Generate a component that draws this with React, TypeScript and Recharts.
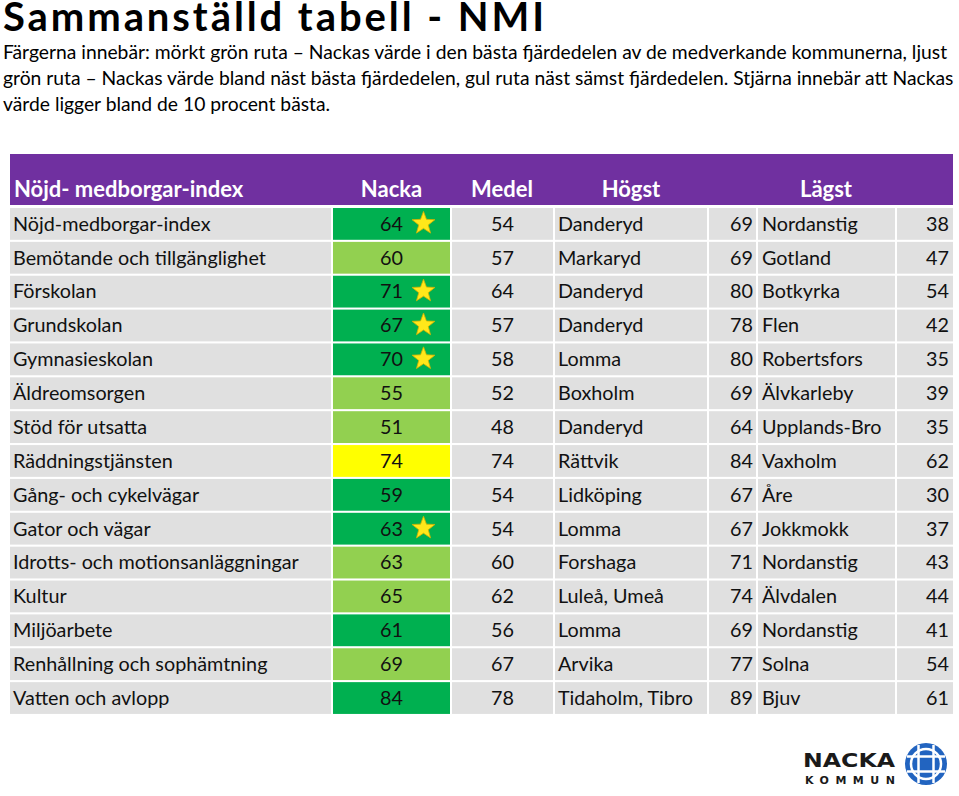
import React from 'react';
import { BarChart, Bar, XAxis, YAxis } from 'recharts';

// ---------- data ----------
const categories = [
  'Nöjd-medborgar-index',
  'Bemötande och tillgänglighet',
  'Förskolan',
  'Grundskolan',
  'Gymnasieskolan',
  'Äldreomsorgen',
  'Stöd för utsatta',
  'Räddningstjänsten',
  'Gång- och cykelvägar',
  'Gator och vägar',
  'Idrotts- och motionsanläggningar',
  'Kultur',
  'Miljöarbete',
  'Renhållning och sophämtning',
  'Vatten och avlopp',
];
const nackaValues = [64, 60, 71, 67, 70, 55, 51, 74, 59, 63, 63, 65, 61, 69, 84];
const medelValues = [54, 57, 64, 57, 58, 52, 48, 74, 54, 54, 60, 62, 56, 67, 78];
const hogstNames = [
  'Danderyd', 'Markaryd', 'Danderyd', 'Danderyd', 'Lomma', 'Boxholm', 'Danderyd',
  'Rättvik', 'Lidköping', 'Lomma', 'Forshaga', 'Luleå, Umeå', 'Lomma', 'Arvika', 'Tidaholm, Tibro',
];
const hogstValues = [69, 69, 80, 78, 80, 69, 64, 84, 67, 67, 71, 74, 69, 77, 89];
const lagstNames = [
  'Nordanstig', 'Gotland', 'Botkyrka', 'Flen', 'Robertsfors', 'Älvkarleby', 'Upplands-Bro',
  'Vaxholm', 'Åre', 'Jokkmokk', 'Nordanstig', 'Älvdalen', 'Nordanstig', 'Solna', 'Bjuv',
];
const lagstValues = [38, 47, 54, 42, 35, 39, 35, 62, 30, 37, 43, 44, 41, 54, 61];
// quartile class of Nacka's value: dark = best quarter, light = second best, yellow = second worst
const nackaClass = [
  'dark', 'light', 'dark', 'dark', 'dark', 'light', 'light', 'yellow',
  'dark', 'dark', 'light', 'light', 'dark', 'light', 'dark',
];
// star = among the 10 percent best
const nackaStar = [true, false, true, true, true, false, false, false, false, true, false, false, false, false, false];

const headerLabels = ['Nöjd- medborgar-index', 'Nacka', 'Medel', 'Högst', 'Lägst'];

const titleText = 'Sammanställd tabell - NMI';
const descriptionLines = [
  'Färgerna innebär: mörkt grön ruta – Nackas värde i den bästa fjärdedelen av de medverkande kommunerna, ljust',
  'grön ruta – Nackas värde bland näst bästa fjärdedelen, gul ruta näst sämst fjärdedelen. Stjärna innebär att Nackas',
  'värde ligger bland de 10 procent bästa.',
];

// ---------- layout / style ----------
const W = 959;
const H = 796;
const FONT = 'Lato, "Open Sans", "DejaVu Sans", sans-serif';
const COLUMN_EDGES = [10, 332, 451, 554, 708, 757, 896, 954];
const HEADER_TICKS = [14, 391.5, 502, 631, 826];
const CLASS_FILL: Record<string, string> = { dark: '#00B050', light: '#92D050', yellow: '#FFFF00' };
const GREY = '#E0E0E0';
const PURPLE = '#7030A0';
const ROW_FONT = 19.8;
const HEAD_FONT = 22;

const tableData = categories.map((name, i) => ({
  name,
  nacka: nackaValues[i],
  medel: medelValues[i],
  hogstName: hogstNames[i],
  hogstValue: hogstValues[i],
  lagstName: lagstNames[i],
  lagstValue: lagstValues[i],
  cls: nackaClass[i],
  star: nackaStar[i],
}));

type Row = (typeof tableData)[number];
type ColDef = { get: (d: Row) => string | number; align: 'start' | 'middle' | 'end'; pad: number };
const COLS: ColDef[] = [
  { get: (d) => d.name, align: 'start', pad: 3 },
  { get: (d) => d.nacka, align: 'middle', pad: 0 },
  { get: (d) => d.medel, align: 'middle', pad: 0 },
  { get: (d) => d.hogstName, align: 'start', pad: 3 },
  { get: (d) => d.hogstValue, align: 'end', pad: 3 },
  { get: (d) => d.lagstName, align: 'start', pad: 4 },
  { get: (d) => d.lagstValue, align: 'end', pad: 4 },
];

const starPoints = (cx: number, cy: number, ro: number, ri: number) => {
  const pts: string[] = [];
  for (let k = 0; k < 10; k++) {
    const r = k % 2 === 0 ? ro : ri;
    const a = -Math.PI / 2 + (k * Math.PI) / 5;
    pts.push(`${(cx + r * Math.cos(a)).toFixed(2)},${(cy + r * Math.sin(a)).toFixed(2)}`);
  }
  return pts.join(' ');
};

const makeShape = (colIndex: number) => (props: any) => {
  const { x, y, width, height, payload } = props;
  const col = COLS[colIndex];
  const d = payload as Row;
  const fill = colIndex === 1 ? CLASS_FILL[d.cls] : GREY;
  const tx = col.align === 'start' ? x + col.pad : col.align === 'end' ? x + width - col.pad : x + width / 2;
  const cy = y + height / 2;
  return (
    <g>
      <rect x={x} y={y} width={width} height={height} fill={fill} />
      <text
        x={tx}
        y={cy + 6.8}
        textAnchor={col.align}
        fontFamily={FONT}
        fontSize={ROW_FONT}
        fill="#111"
      >
        {col.get(d)}
      </text>
      {colIndex === 1 && d.star ? (
        <polygon
          points={starPoints(x + width / 2 + 32, cy - 0.5, 12, 5)}
          fill="#FFE81A"
          stroke="#D4B000"
          strokeWidth={0.8}
        />
      ) : null}
    </g>
  );
};

const HeaderTick = (props: any) => {
  const { x, payload } = props;
  const idx = HEADER_TICKS.indexOf(payload.value);
  return (
    <text
      x={x}
      y={197}
      textAnchor={idx === 0 ? 'start' : 'middle'}
      fontFamily={FONT}
      fontWeight={700}
      fontSize={HEAD_FONT}
      fill="#FFFFFF"
    >
      {headerLabels[idx]}
    </text>
  );
};

const Logo = () => (
  <g>
    <text x={803} y={767} fontFamily='"DejaVu Sans", sans-serif' fontWeight={700} fontSize={20} fill="#1a1a1a" textLength={92} lengthAdjust="spacingAndGlyphs">
      NACKA
    </text>
    <text x={805} y={783.5} fontFamily='"DejaVu Sans", sans-serif' fontWeight={700} fontSize={11} fill="#1a1a1a" textLength={90} lengthAdjust="spacing">
      KOMMUN
    </text>
    <circle cx={926} cy={764} r={21} fill="#2264C0" />
    <circle cx={926} cy={764} r={15} fill="none" stroke="#FFFFFF" strokeWidth={2.5} />
    <line x1={918.5} y1={745} x2={918.5} y2={783} stroke="#FFFFFF" strokeWidth={2.5} />
    <line x1={933.5} y1={745} x2={933.5} y2={783} stroke="#FFFFFF" strokeWidth={2.5} />
    <line x1={907} y1={756.5} x2={945} y2={756.5} stroke="#FFFFFF" strokeWidth={2.5} />
    <line x1={907} y1={771.5} x2={945} y2={771.5} stroke="#FFFFFF" strokeWidth={2.5} />
  </g>
);

export default function App() {
  return (
    <div style={{ position: 'absolute', left: 0, top: 0, width: W, height: H, background: '#FFFFFF', overflow: 'hidden' }}>
      <svg width={W} height={H} style={{ position: 'absolute', left: 0, top: 0 }}>
        <text x={3} y={31} fontFamily={FONT} fontWeight={700} fontSize={40} fill="#000" textLength={541} lengthAdjust="spacing">
          {titleText}
        </text>
        {descriptionLines.map((line, i) => (
          <text key={i} x={3} y={59 + i * 26} fontFamily={FONT} fontSize={19.3} fill="#000">
            {line}
          </text>
        ))}
        <rect x={10} y={154} width={943} height={51} fill={PURPLE} />
        <Logo />
      </svg>
      <div style={{ position: 'absolute', left: 0, top: 0 }}>
        <BarChart
          width={W}
          height={H}
          data={tableData}
          layout="vertical"
          margin={{ top: 154, right: 0, bottom: 81, left: 0 }}
          barSize={31.8}
          barGap={-31.8}
          barCategoryGap={0}
        >
          <XAxis
            type="number"
            orientation="top"
            domain={[0, W]}
            allowDataOverflow
            ticks={HEADER_TICKS}
            tick={<HeaderTick />}
            axisLine={false}
            tickLine={false}
            height={53}
            interval={0}
          />
          <YAxis type="category" dataKey="name" hide width={0} />
          {COLS.map((_, i) => (
            <Bar
              key={i}
              dataKey={() => [COLUMN_EDGES[i] + (i === 0 ? 0 : 1), COLUMN_EDGES[i + 1] - 1]}
              shape={makeShape(i)}
              isAnimationActive={false}
            />
          ))}
        </BarChart>
      </div>
    </div>
  );
}
